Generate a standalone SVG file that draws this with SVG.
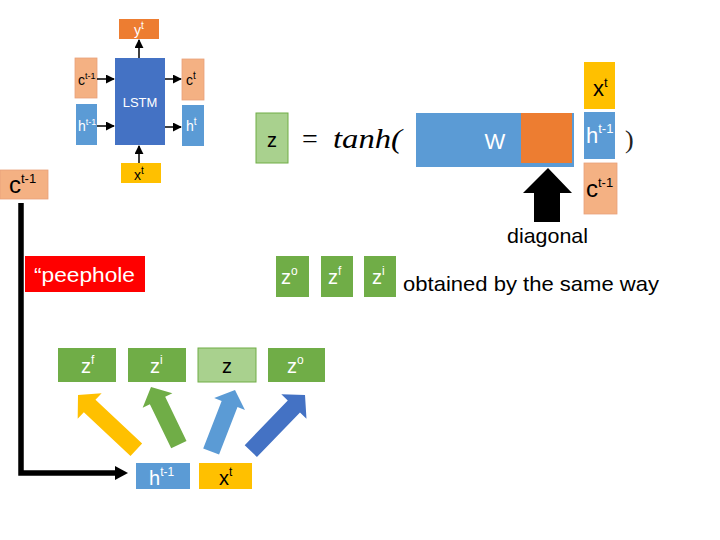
<svg xmlns="http://www.w3.org/2000/svg" width="720" height="540" viewBox="0 0 720 540">
<style>
.t{font-family:"Liberation Sans",Arial,sans-serif}
.w{fill:#fff}
.k{fill:#000}
.green{fill:#70AD47}
.lgreen{fill:#A9D18E;stroke:#70AD47;stroke-width:1}
.blue{fill:#5B9BD5}
.dblue{fill:#4472C4}
.yel{fill:#FFC000}
.pink{fill:#F4B183;stroke:#E8A07A;stroke-width:0.8}
.orange{fill:#ED7D31}
.thin{stroke:#000;stroke-width:1.5;fill:none}
</style>
<defs>
<marker id="ah" viewBox="0 0 10 10" refX="9" refY="5" markerWidth="6" markerHeight="6" orient="auto">
<path d="M0,0 L10,5 L0,10 z" fill="#000"/>
</marker>
</defs>
<rect width="720" height="540" fill="#fff"/>

<!-- LSTM mini figure -->
<g id="lstm-fig">
<g id="m-yt"><rect x="119" y="19" width="40" height="20" class="orange"/><text x="139" y="35" class="t w" font-size="14" text-anchor="middle">y<tspan font-size="10" dy="-6">t</tspan></text></g>
<g id="m-ct1"><rect x="75" y="58" width="22" height="40" class="pink"/><text x="78" y="85" class="t k" font-size="14">c<tspan font-size="9" dy="-6">t-1</tspan></text></g>
<g id="m-ht1"><rect x="76" y="104" width="21" height="41" class="blue"/><text x="78" y="131" class="t w" font-size="14">h<tspan font-size="9" dy="-6">t-1</tspan></text></g>
<g id="m-lstm"><rect x="115" y="58" width="50" height="87" class="dblue"/><text x="140" y="107" class="t w" font-size="13" text-anchor="middle">LSTM</text></g>
<g id="m-ct"><rect x="182" y="59" width="22" height="41" class="pink"/><text x="186" y="85" class="t k" font-size="14">c<tspan font-size="10" dy="-6">t</tspan></text></g>
<g id="m-ht"><rect x="182" y="105" width="22" height="41" class="blue"/><text x="186" y="131" class="t w" font-size="14">h<tspan font-size="10" dy="-6">t</tspan></text></g>
<g id="m-xt"><rect x="121" y="163" width="40" height="20" class="yel"/><text x="139" y="180" class="t k" font-size="14" text-anchor="middle">x<tspan font-size="10" dy="-6">t</tspan></text></g>
<g id="m-conn">
<line x1="97" y1="79" x2="114" y2="79" class="thin" marker-end="url(#ah)"/>
<line x1="97" y1="126" x2="114" y2="126" class="thin" marker-end="url(#ah)"/>
<line x1="165" y1="79" x2="181" y2="79" class="thin" marker-end="url(#ah)"/>
<line x1="165" y1="127" x2="181" y2="127" class="thin" marker-end="url(#ah)"/>
<line x1="139" y1="58" x2="139" y2="40" class="thin" marker-end="url(#ah)"/>
<line x1="139" y1="163" x2="139" y2="146" class="thin" marker-end="url(#ah)"/>
</g>
</g>

<!-- Equation -->
<g id="eq-z"><rect x="256" y="113" width="32" height="50" class="lgreen"/><text x="272" y="147" class="t k" font-size="20" text-anchor="middle">z</text></g>
<text x="302" y="148" font-family="Liberation Serif,serif" font-size="28">=</text>
<text x="333" y="148" font-family="Liberation Serif,serif" font-style="italic" font-size="28" textLength="69" lengthAdjust="spacingAndGlyphs">tanh(</text>
<g id="eq-W"><rect x="416" y="113" width="158" height="54" class="blue"/><rect x="521" y="113" width="51" height="50" class="orange"/><text x="495" y="149" class="t w" font-size="22" text-anchor="middle">W</text></g>
<g id="eq-xt"><rect x="584" y="62" width="31" height="47" class="yel"/><text x="593" y="96" class="t k" font-size="22">x<tspan font-size="13" dy="-9">t</tspan></text></g>
<g id="eq-ht1"><rect x="584" y="112" width="31" height="47" class="blue"/><text x="586" y="143" class="t w" font-size="22">h<tspan font-size="13" dy="-10">t-1</tspan></text></g>
<g id="eq-ct1"><rect x="584" y="163" width="33" height="51" class="pink"/><text x="586" y="197" class="t k" font-size="24">c<tspan font-size="13" dy="-10">t-1</tspan></text></g>
<text x="625" y="148" font-family="Liberation Serif,serif" font-size="26" fill="#222">)</text>

<!-- diagonal arrow -->
<g id="diag">
<polygon points="548,168 572,193 560,193 560,222 534,222 534,193 523,193" fill="#000"/>
<text x="507" y="243" class="t k" font-size="21" textLength="81" lengthAdjust="spacingAndGlyphs">diagonal</text>
</g>

<!-- left c^{t-1} -->
<g id="c-left"><rect x="0" y="170" width="48" height="29" class="pink"/><text x="9" y="193" class="t k" font-size="24">c<tspan font-size="13" dy="-10">t-1</tspan></text></g>

<!-- peephole -->
<g id="peephole"><rect x="25" y="256" width="120" height="36" fill="#FF0000"/><text x="34" y="282" class="t w" font-size="21" textLength="101" lengthAdjust="spacingAndGlyphs">“peephole</text></g>

<!-- z^o z^f z^i row -->
<g id="r-zo"><rect x="276" y="256" width="33" height="41" class="green"/><text x="281" y="284" class="t w" font-size="20">z<tspan font-size="12" dy="-9">o</tspan></text></g>
<g id="r-zf"><rect x="321" y="256" width="32" height="41" class="green"/><text x="328" y="284" class="t w" font-size="20">z<tspan font-size="12" dy="-9">f</tspan></text></g>
<g id="r-zi"><rect x="364" y="256" width="32" height="41" class="green"/><text x="372" y="284" class="t w" font-size="20">z<tspan font-size="12" dy="-9">i</tspan></text></g>
<text x="403" y="291" class="t k" font-size="21" textLength="256" lengthAdjust="spacingAndGlyphs">obtained by the same way</text>

<!-- bottom boxes -->
<g id="b-zf"><rect x="58" y="348" width="58" height="34" class="green"/><text x="81" y="373" class="t w" font-size="20">z<tspan font-size="12" dy="-9">f</tspan></text></g>
<g id="b-zi"><rect x="128" y="348" width="58" height="34" class="green"/><text x="150" y="373" class="t w" font-size="20">z<tspan font-size="12" dy="-9">i</tspan></text></g>
<g id="b-z"><rect x="198" y="348" width="58" height="34" class="lgreen"/><text x="227" y="373" class="t k" font-size="20" text-anchor="middle">z</text></g>
<g id="b-zo"><rect x="268" y="348" width="57" height="34" class="green"/><text x="287" y="373" class="t w" font-size="20">z<tspan font-size="12" dy="-9">o</tspan></text></g>
<g id="b-ht1"><rect x="136" y="463" width="54" height="26" class="blue"/><text x="149" y="485" class="t w" font-size="20">h<tspan font-size="12" dy="-9">t-1</tspan></text></g>
<g id="b-xt"><rect x="199" y="463" width="53" height="26" class="yel"/><text x="219" y="485" class="t k" font-size="20">x<tspan font-size="12" dy="-9">t</tspan></text></g>

<!-- connectors -->
<g id="connectors">
<polyline points="21,203 21,473 118,473" fill="none" stroke="#000" stroke-width="5.5"/>
<polygon points="128,473 115,466 115,480" fill="#000"/>
<polygon transform="translate(78,395) rotate(-46.8)" points="0,0 17.5,16 8.5,16 8.5,80 -8.5,80 -8.5,16 -17.5,16" class="yel"/>
<polygon transform="translate(151,387) rotate(-25.8)" points="0,0 16.5,15 8.5,15 8.5,64 -8.5,64 -8.5,15 -16.5,15" class="green"/>
<polygon transform="translate(235,390) rotate(21.2)" points="0,0 16.5,15 8.5,15 8.5,66 -8.5,66 -8.5,15 -16.5,15" class="blue"/>
<polygon transform="translate(305,395) rotate(44)" points="0,0 17.5,16 8.5,16 8.5,78 -8.5,78 -8.5,16 -17.5,16" class="dblue"/>
</g>
</svg>
